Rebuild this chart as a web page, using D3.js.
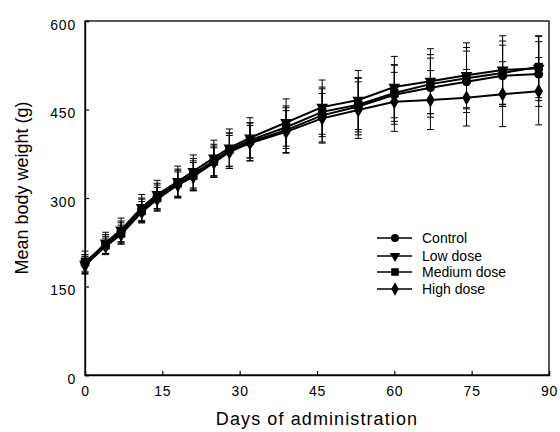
<!DOCTYPE html>
<html><head><meta charset="utf-8">
<script src="https://cdn.jsdelivr.net/npm/d3@7"></script>
<style>body{margin:0;background:#fff}svg{display:block}text{font-family:"Liberation Sans",Arial,sans-serif;fill:#000}</style>
</head><body><svg id="c" width="560" height="432"></svg>
<script>
const days = [0,4,7,11,14,18,21,25,28,32,39,46,53,60,67,74,81,88];
const seriesNames = ["Control","Low dose","Medium dose","High dose"];
const controlMean = [190,222,243,280,303,325,341,363,380,395,415,440,455,475,487,497,507,510];
const controlSD   = [14,16,18,20,22,24,26,28,30,32,38,45,48,50,50,52,52,55];
const lowMean     = [188,224,246,284,306,328,345,368,385,402,428,454,466,488,498,508,517,520];
const lowSD       = [16,18,20,22,24,26,28,30,32,34,40,46,50,52,55,55,58,55];
const medMean     = [192,220,240,278,300,325,338,362,382,398,420,446,458,478,493,503,512,522];
const medSD       = [18,15,18,20,22,22,25,26,28,30,36,42,46,48,50,52,54,52];
const highMean    = [186,218,238,276,298,322,336,360,378,393,412,435,449,463,466,470,476,481];
const highSD      = [15,14,16,18,20,22,24,25,28,30,36,42,48,50,50,48,55,57];
const xTicks = [0,15,30,45,60,75,90];
const yTicks = [0,150,300,450,600];

const svg = d3.select("#c");
const L=85,R=549,T=21,B=375;
const x = d3.scaleLinear().domain([0,90]).range([L,R]);
const y = d3.scaleLinear().domain([0,600]).range([B,T]);

const series = [
  {name:seriesNames[0], mean:controlMean, sd:controlSD, sym:d3.symbolCircle, size:64, rot:0},
  {name:seriesNames[1], mean:lowMean, sd:lowSD, sym:d3.symbolTriangle, size:60, rot:180},
  {name:seriesNames[2], mean:medMean, sd:medSD, sym:d3.symbolSquare, size:72, rot:0},
  {name:seriesNames[3], mean:highMean, sd:highSD, sym:d3.symbolDiamond, size:64, rot:0}
];

// frame
svg.append("rect").attr("x",L).attr("y",T).attr("width",R-L).attr("height",B-T)
  .attr("fill","none").attr("stroke","#000").attr("stroke-width",1.3);

// axes (inward ticks)
const xAxis = svg.append("g").attr("transform",`translate(0,${B})`)
  .call(d3.axisBottom(x).tickValues(xTicks).tickSize(-4).tickPadding(13).tickFormat(d3.format("d")));
const yAxis = svg.append("g").attr("transform",`translate(${L},0)`)
  .call(d3.axisLeft(y).tickValues(yTicks).tickSize(-4).tickPadding(9).tickFormat(d3.format("d")));
[xAxis,yAxis].forEach(g=>{
  g.select(".domain").attr("stroke","#000").attr("stroke-width",1.3);
  g.selectAll(".tick line").attr("stroke","#000").attr("stroke-width",1.2);
  g.selectAll(".tick text").attr("font-size",14).attr("letter-spacing","0.8px")
    .style("font-family",'"Liberation Sans",Arial,sans-serif').attr("fill","#000");
});
yAxis.selectAll(".tick text").attr("dy","0.6em");
xAxis.selectAll(".tick text").attr("dy","0.6em");

// error bars
series.forEach(s=>{
  const g = svg.append("g").attr("stroke","#000").attr("stroke-width",1);
  days.forEach((d,i)=>{
    const cx=x(d), y1=y(s.mean[i]+s.sd[i]), y2=y(s.mean[i]-s.sd[i]);
    g.append("line").attr("x1",cx).attr("x2",cx).attr("y1",y1).attr("y2",y2);
    g.append("line").attr("x1",cx-3.5).attr("x2",cx+3.5).attr("y1",y1).attr("y2",y1);
    g.append("line").attr("x1",cx-3.5).attr("x2",cx+3.5).attr("y1",y2).attr("y2",y2);
  });
});

// lines and markers
const line = d3.line().x((d,i)=>x(days[i])).y(d=>y(d));
series.forEach(s=>{
  svg.append("path").datum(s.mean).attr("d",line).attr("fill","none")
    .attr("stroke","#000").attr("stroke-width",2);
});
series.forEach(s=>{
  const sym = d3.symbol().type(s.sym).size(s.size);
  svg.append("g").selectAll("path").data(s.mean).join("path")
    .attr("d",sym).attr("fill","#000")
    .attr("transform",(d,i)=>`translate(${x(days[i])},${y(d)}) rotate(${s.rot})`);
});

// legend
const lg = svg.append("g");
const legY = [238,256,272,289];
series.forEach((s,i)=>{
  const yy = legY[i];
  lg.append("line").attr("x1",377).attr("x2",412).attr("y1",yy).attr("y2",yy)
    .attr("stroke","#000").attr("stroke-width",1.5);
  lg.append("path").attr("d",d3.symbol().type(s.sym).size(s.size*0.8)())
    .attr("transform",`translate(395,${yy}) rotate(${s.rot})`).attr("fill","#000");
  lg.append("text").attr("x",422).attr("y",yy+5).attr("font-size",14).text(s.name);
});

// titles
svg.append("text").attr("x",(L+R)/2).attr("y",425).attr("text-anchor","middle")
  .attr("font-size",18).attr("letter-spacing","1.1px").text("Days of administration");
svg.append("text").attr("transform","translate(28,188) rotate(-90)").attr("text-anchor","middle")
  .attr("font-size",18).text("Mean body weight (g)");
</script></body></html>
